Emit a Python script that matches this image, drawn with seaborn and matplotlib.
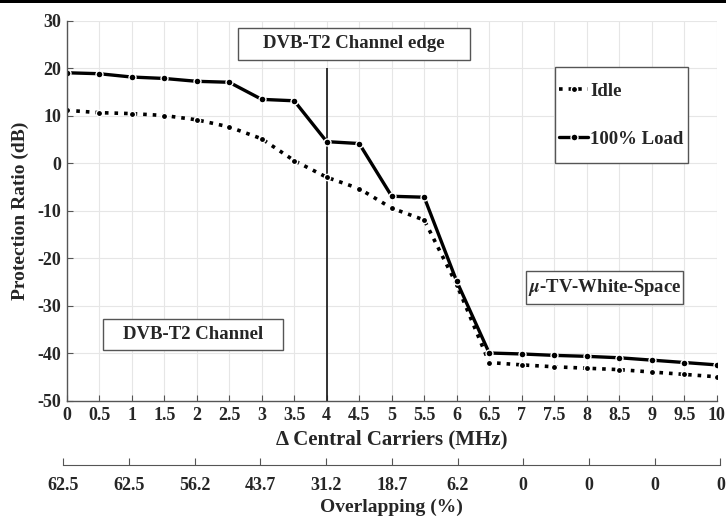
import numpy as np
import pandas as pd
import matplotlib
matplotlib.use('Agg')
import matplotlib.pyplot as plt
import seaborn as sns
from matplotlib.patches import Rectangle

# Data
carrier_offset = [0, 0.5, 1, 1.5, 2, 2.5, 3, 3.5, 4, 4.5, 5, 5.5, 6, 6.5, 7, 7.5, 8, 8.5, 9, 9.5, 10]
idle = [11.2, 10.7, 10.5, 10.1, 9.2, 7.7, 5.2, 0.6, -2.9, -5.3, -9.4, -11.9, -25.5,
        -41.9, -42.4, -42.8, -43.1, -43.4, -43.9, -44.4, -44.9]
full_load = [19.1, 18.9, 18.2, 17.9, 17.3, 17.1, 13.5, 13.2, 4.6, 4.2, -6.9, -7.1, -24.8,
             -39.9, -40.1, -40.4, -40.6, -40.9, -41.4, -41.9, -42.4]
overlap_pos = [0, 1, 2, 3, 4, 5, 6, 7, 8, 9, 10]
overlap_labels = ['62.5', '62.5', '56.2', '43.7', '31.2', '18.7', '6.2', '0', '0', '0', '0']
channel_edge = 4

df = pd.DataFrame({'offset': carrier_offset, 'Idle': idle, '100% Load': full_load})

sns.set_style('white')
plt.rcParams['font.family'] = ['Liberation Serif', 'DejaVu Serif']
plt.rcParams['font.weight'] = 'bold'
plt.rcParams['mathtext.fontset'] = 'stix'
plt.rcParams['axes.unicode_minus'] = False

fig = plt.figure(figsize=(7.26, 5.17), dpi=100)
ax = fig.add_axes([0.0919, 0.2244, 0.8953, 0.735])

sns.lineplot(data=df, x='offset', y='Idle', ax=ax, color='black', linestyle=':', linewidth=2.6,
             marker='o', markersize=4.5, markeredgewidth=1, label='Idle')
sns.lineplot(data=df, x='offset', y='100% Load', ax=ax, color='black', linestyle='-', linewidth=2.4,
             marker='o', markersize=5, markeredgewidth=1, label='100% Load')

ax.vlines(channel_edge, -50, 20, color='#222222', linewidth=1.3, zorder=1)

ax.set_xlim(0, 10)
ax.set_ylim(-50, 30)
xt = np.arange(0, 10.01, 0.5)
ax.set_xticks(xt)
ax.set_xticklabels([f'{v:g}' for v in xt])
ax.set_yticks(np.arange(-50, 31, 10))
ax.grid(True, color='#e6e6e6', linewidth=0.8)
ax.tick_params(direction='in', length=4, color='#555555', labelsize=13, pad=4,
               bottom=True, left=True)
for s in ['top', 'right']:
    ax.spines[s].set_visible(False)
for s in ['left', 'bottom']:
    ax.spines[s].set_color('#555555')
    ax.spines[s].set_linewidth(1)
ax.set_xlabel('Δ Central Carriers (MHz)', fontsize=15, fontweight='bold', labelpad=4)
ax.set_ylabel('Protection Ratio (dB)', fontsize=14, fontweight='bold', labelpad=6)

# Text boxes
def boxed(x0, x1, y0, y1, txt=None, size=13.5):
    ax.add_patch(Rectangle((x0, y0), x1 - x0, y1 - y0, transform=ax.transAxes,
                           facecolor='white', edgecolor='#555555', linewidth=1, zorder=4,
                           clip_on=False))
    if txt:
        ax.text((x0 + x1) / 2, (y0 + y1) / 2, txt, transform=ax.transAxes, ha='center',
                va='center', fontsize=size, fontweight='bold', zorder=5)

boxed(0.2636, 0.6205, 0.8974, 0.9816, 'DVB-T2 Channel edge')
boxed(0.056, 0.333, 0.1342, 0.2158, 'DVB-T2 Channel')
boxed(0.7066, 0.9482, 0.2553, 0.342, r'$\mu$-TV-White-Space')

# Legend box drawn by hand, legend content placed inside
boxed(0.7512, 0.9559, 0.6263, 0.879)
leg = ax.legend(loc='center', bbox_to_anchor=((0.7512 + 0.9559) / 2, (0.6263 + 0.879) / 2),
                frameon=False, fontsize=13.5, labelspacing=1.65, handlelength=1.55,
                handletextpad=0.1, borderpad=0, borderaxespad=0)
leg.set_zorder(6)

# Secondary axis with overlapping percentage
ax2 = fig.add_axes([0.0872, 0.1006, 0.905, 0.0001])
ax2.set_xlim(0, 10)
ax2.set_yticks([])
ax2.set_xticks(overlap_pos)
ax2.set_xticklabels(overlap_labels)
ax2.tick_params(axis='x', direction='in', length=5, color='#555555', labelsize=13, pad=9,
                bottom=True)
for s in ['top', 'right', 'left']:
    ax2.spines[s].set_visible(False)
ax2.spines['bottom'].set_color('#555555')
ax2.patch.set_visible(False)
ax2.set_xlabel('Overlapping (%)', fontsize=14, fontweight='bold', labelpad=3)

# Black bar at the top edge
fig.add_artist(Rectangle((0, 1 - 3 / 517), 1, 3 / 517, transform=fig.transFigure,
                         facecolor='black', edgecolor='none'))

fig.savefig('out.png', dpi=100)
